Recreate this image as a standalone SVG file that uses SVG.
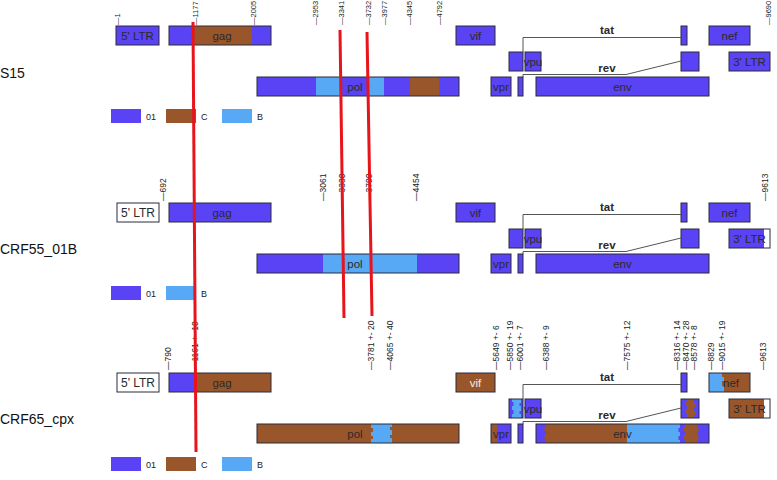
<svg xmlns="http://www.w3.org/2000/svg" width="777" height="480" viewBox="0 0 777 480">
<style>
.b{fill:#5a42f5}.c{fill:#9a562b}.l{fill:#57a9f6}.w{fill:#fff}
.o{fill:none;stroke:#2b2b3a;stroke-width:1}
.g{font-family:"Liberation Sans",Arial,sans-serif;font-size:11.5px;fill:#2a2a2a;text-anchor:middle}
.t{font-family:"Liberation Sans",Arial,sans-serif;font-size:8.5px;fill:#222}
.t1{font-family:"Liberation Sans",Arial,sans-serif;font-size:7.5px;fill:#222}
.lg{font-family:"Liberation Sans",Arial,sans-serif;font-size:9px;fill:#222}
.n{font-family:"Liberation Sans",Arial,sans-serif;font-size:14px;fill:#111}
.ln{fill:none;stroke:#555;stroke-width:1}
.red{stroke:#e8141c;stroke-width:3}
</style>
<rect width="777" height="480" fill="#fff"/>

<!-- ROW 1 -->
<g id="row1">
<text class="n" x="0" y="78">S15</text>
<g id="r1-ticks">
<text class="t1" transform="translate(120,25) rotate(-90)">—1</text>
<text class="t1" transform="translate(198,25) rotate(-90)">—1177</text>
<text class="t1" transform="translate(256,25) rotate(-90)">—2005</text>
<text class="t1" transform="translate(318,25) rotate(-90)">—2953</text>
<text class="t1" transform="translate(344,25) rotate(-90)">—3341</text>
<text class="t1" transform="translate(371,25) rotate(-90)">—3732</text>
<text class="t1" transform="translate(387,25) rotate(-90)">—3977</text>
<text class="t1" transform="translate(412,25) rotate(-90)">—4345</text>
<text class="t1" transform="translate(442,25) rotate(-90)">—4792</text>
<text class="t1" transform="translate(771,25) rotate(-90)">—9690</text>
</g>
<g id="r1-ltr5"><rect class="b" x="116" y="26" width="43" height="19"/><rect class="o" x="116" y="26" width="43" height="19"/><text class="g" x="137.5" y="40">5' LTR</text></g>
<g id="r1-gag"><rect class="b" x="169" y="26" width="102" height="19"/><rect class="c" x="193" y="26" width="59" height="19"/><rect class="o" x="169" y="26" width="102" height="19"/><text class="g" x="222" y="40">gag</text></g>
<g id="r1-vif"><rect class="b" x="456" y="26" width="39" height="19"/><rect class="o" x="456" y="26" width="39" height="19"/><text class="g" x="475.5" y="40">vif</text></g>
<g id="r1-tat1"><rect class="b" x="509" y="52" width="14" height="19"/><rect class="o" x="509" y="52" width="14" height="19"/></g>
<g id="r1-tat2"><rect class="b" x="681" y="26" width="6" height="19"/><rect class="o" x="681" y="26" width="6" height="19"/></g>
<g id="r1-nef"><rect class="b" x="709" y="26" width="41" height="19"/><rect class="o" x="709" y="26" width="41" height="19"/><text class="g" x="729.5" y="40">nef</text></g>
<g id="r1-vpu"><rect class="b" x="525" y="52" width="16" height="19"/><rect class="o" x="525" y="52" width="16" height="19"/><text class="g" x="533" y="66">vpu</text></g>
<g id="r1-rev2"><rect class="b" x="681" y="52" width="18" height="19"/><rect class="o" x="681" y="52" width="18" height="19"/></g>
<g id="r1-ltr3"><rect class="b" x="729" y="52" width="41" height="19"/><rect class="o" x="729" y="52" width="41" height="19"/><text class="g" x="749.5" y="66">3' LTR</text></g>
<g id="r1-pol"><rect class="b" x="257" y="77" width="202" height="19"/><rect class="l" x="316" y="77" width="25" height="19"/><rect class="l" x="369" y="77" width="15" height="19"/><rect class="c" x="410" y="77" width="29" height="19"/><rect class="o" x="257" y="77" width="202" height="19"/><text class="g" x="355" y="91">pol</text></g>
<g id="r1-vpr"><rect class="b" x="491" y="77" width="20" height="19"/><rect class="o" x="491" y="77" width="20" height="19"/><text class="g" x="501" y="91">vpr</text></g>
<g id="r1-rev1"><rect class="b" x="518" y="77" width="5" height="19"/><rect class="o" x="518" y="77" width="5" height="19"/></g>
<g id="r1-env"><rect class="b" x="536" y="77" width="173" height="19"/><rect class="o" x="536" y="77" width="173" height="19"/><text class="g" x="622.5" y="91">env</text></g>
<g id="r1-connectors">
<path class="ln" d="M523,52 V37.5 H681"/>
<path class="ln" d="M523,77 V74.5 H626 L681,61"/>
</g>
<text class="g" x="607" y="34" style="font-weight:bold">tat</text>
<text class="g" x="607" y="72" style="font-weight:bold">rev</text>
<g id="r1-legend">
<rect class="b" x="111" y="109" width="30" height="14"/><text class="lg" x="146" y="120">01</text>
<rect class="c" x="166" y="109" width="30" height="14"/><text class="lg" x="201" y="120">C</text>
<rect class="l" x="222" y="109" width="30" height="14"/><text class="lg" x="257" y="120">B</text>
</g>
</g>

<!-- ROW 2 -->
<g id="row2" transform="translate(0,177)">
<text class="n" x="0" y="77">CRF55_01B</text>
<g id="r2-ticks">
<text class="t" transform="translate(166,24) rotate(-90)">—692</text>
<text class="t" transform="translate(326,24) rotate(-90)">—3061</text>
<text class="t" transform="translate(345,24) rotate(-90)">—3330</text>
<text class="t" transform="translate(372,24) rotate(-90)">—3700</text>
<text class="t" transform="translate(419,24) rotate(-90)">—4454</text>
<text class="t" transform="translate(768,24) rotate(-90)">—9613</text>
</g>
<g id="r2-ltr5"><rect class="w" x="117" y="26" width="42" height="19"/><rect class="o" x="117" y="26" width="42" height="19"/><text class="g" x="138" y="40" style="font-size:12px">5' LTR</text></g>
<g id="r2-gag"><rect class="b" x="169" y="26" width="102" height="19"/><rect class="o" x="169" y="26" width="102" height="19"/><text class="g" x="222" y="40">gag</text></g>
<g id="r2-vif"><rect class="b" x="456" y="26" width="39" height="19"/><rect class="o" x="456" y="26" width="39" height="19"/><text class="g" x="475.5" y="40">vif</text></g>
<g id="r2-tat1"><rect class="b" x="509" y="52" width="14" height="19"/><rect class="o" x="509" y="52" width="14" height="19"/></g>
<g id="r2-tat2"><rect class="b" x="681" y="26" width="6" height="19"/><rect class="o" x="681" y="26" width="6" height="19"/></g>
<g id="r2-nef"><rect class="b" x="709" y="26" width="41" height="19"/><rect class="o" x="709" y="26" width="41" height="19"/><text class="g" x="729.5" y="40">nef</text></g>
<g id="r2-vpu"><rect class="b" x="525" y="52" width="16" height="19"/><rect class="o" x="525" y="52" width="16" height="19"/><text class="g" x="533" y="66">vpu</text></g>
<g id="r2-rev2"><rect class="b" x="681" y="52" width="18" height="19"/><rect class="o" x="681" y="52" width="18" height="19"/></g>
<g id="r2-ltr3"><rect class="w" x="729" y="52" width="41" height="19"/><rect class="b" x="729" y="52" width="35" height="19"/><rect class="o" x="729" y="52" width="41" height="19"/><text class="g" x="749.5" y="66">3' LTR</text></g>
<g id="r2-pol"><rect class="b" x="257" y="77" width="202" height="19"/><rect class="l" x="323" y="77" width="94" height="19"/><rect class="o" x="257" y="77" width="202" height="19"/><text class="g" x="355" y="91">pol</text></g>
<g id="r2-vpr"><rect class="b" x="491" y="77" width="20" height="19"/><rect class="o" x="491" y="77" width="20" height="19"/><text class="g" x="501" y="91">vpr</text></g>
<g id="r2-rev1"><rect class="b" x="518" y="77" width="5" height="19"/><rect class="o" x="518" y="77" width="5" height="19"/></g>
<g id="r2-env"><rect class="b" x="536" y="77" width="173" height="19"/><rect class="o" x="536" y="77" width="173" height="19"/><text class="g" x="622.5" y="91">env</text></g>
<g id="r2-connectors">
<path class="ln" d="M523,52 V37.5 H681"/>
<path class="ln" d="M523,77 V74.5 H626 L681,61"/>
</g>
<text class="g" x="607" y="34" style="font-weight:bold">tat</text>
<text class="g" x="607" y="72" style="font-weight:bold">rev</text>
<g id="r2-legend">
<rect class="b" x="111" y="109" width="30" height="14"/><text class="lg" x="146" y="120">01</text>
<rect class="l" x="166" y="109" width="30" height="14"/><text class="lg" x="201" y="120">B</text>
</g>
</g>

<!-- ROW 3 -->
<g id="row3" transform="translate(0,347)">
<text class="n" x="0" y="77">CRF65_cpx</text>
<g id="r3-ticks">
<text class="t" transform="translate(171,23) rotate(-90)">—790</text>
<text class="t" transform="translate(198,23) rotate(-90)">—1161 +- 10</text>
<text class="t" transform="translate(374,23) rotate(-90)">—3781 +- 20</text>
<text class="t" transform="translate(393,23) rotate(-90)">—4065 +- 40</text>
<text class="t" transform="translate(499,23) rotate(-90)">—5649 +- 6</text>
<text class="t" transform="translate(513,23) rotate(-90)">—5850 +- 19</text>
<text class="t" transform="translate(523,23) rotate(-90)">—6001 +- 7</text>
<text class="t" transform="translate(549,23) rotate(-90)">—6388 +- 9</text>
<text class="t" transform="translate(630,23) rotate(-90)">—7575 +- 12</text>
<text class="t" transform="translate(680,23) rotate(-90)">—8316 +- 14</text>
<text class="t" transform="translate(689,23) rotate(-90)">—8470 +- 28</text>
<text class="t" transform="translate(697,23) rotate(-90)">—8578 +- 8</text>
<text class="t" transform="translate(714,23) rotate(-90)">—8829</text>
<text class="t" transform="translate(725,23) rotate(-90)">—9015 +- 19</text>
<text class="t" transform="translate(766,23) rotate(-90)">—9613</text>
</g>
<g id="r3-ltr5"><rect class="w" x="117" y="26" width="42" height="19"/><rect class="o" x="117" y="26" width="42" height="19"/><text class="g" x="138" y="40" style="font-size:12px">5' LTR</text></g>
<g id="r3-gag"><rect class="c" x="169" y="26" width="102" height="19"/><rect class="b" x="169" y="26" width="27" height="19"/><rect class="o" x="169" y="26" width="102" height="19"/><text class="g" x="222" y="40">gag</text></g>
<g id="r3-vif"><rect class="c" x="456" y="26" width="39" height="19"/><rect class="o" x="456" y="26" width="39" height="19"/><text class="g" x="475.5" y="40" style="fill:#eee">vif</text></g>
<g id="r3-tat1"><rect class="b" x="509" y="52" width="14" height="19"/><path class="l" d="M512,52 H521 V56 H519.5 V59 H521 V64 H519.5 V67 H521 V71 H512 V67 H513.5 V63 H512 V59 H513.5 V55 H512 Z"/><rect class="o" x="509" y="52" width="14" height="19"/></g>
<g id="r3-tat2"><rect class="b" x="681" y="26" width="6" height="19"/><rect class="o" x="681" y="26" width="6" height="19"/></g>
<g id="r3-nef"><rect class="c" x="709" y="26" width="41" height="19"/><path class="l" d="M709,26 H722 V30 H724 V34 H722 V39 H724 V45 H709 Z"/><rect class="o" x="709" y="26" width="41" height="19"/><text class="g" x="731" y="40">nef</text></g>
<g id="r3-vpu"><rect class="b" x="525" y="52" width="16" height="19"/><rect class="o" x="525" y="52" width="16" height="19"/><text class="g" x="533" y="66">vpu</text></g>
<g id="r3-rev2"><rect class="b" x="681" y="52" width="18" height="19"/><path class="c" d="M687,52 H694 V56 H695.5 V60 H694 V64 H695.5 V68 H694 V71 H687 V67 H685.5 V63 H687 V59 H685.5 V55 H687 Z"/><rect class="o" x="681" y="52" width="18" height="19"/></g>
<g id="r3-ltr3"><rect class="w" x="729" y="52" width="41" height="19"/><rect class="c" x="729" y="52" width="35" height="19"/><rect class="o" x="729" y="52" width="41" height="19"/><text class="g" x="749.5" y="66">3' LTR</text></g>
<g id="r3-pol"><rect class="c" x="257" y="77" width="202" height="19"/><path class="l" d="M371,77 H392 V80 H390 V83 H392 V88 H390 V91 H392 V96 H371 V92 H373 V89 H371 V85 H373 V81 H371 Z"/><rect class="o" x="257" y="77" width="202" height="19"/><text class="g" x="355" y="91">pol</text></g>
<g id="r3-vpr"><rect class="b" x="491" y="77" width="20" height="19"/><rect class="c" x="491" y="77" width="6" height="19"/><rect class="o" x="491" y="77" width="20" height="19"/><text class="g" x="501" y="91">vpr</text></g>
<g id="r3-rev1"><rect class="b" x="518" y="77" width="5" height="19"/><rect class="o" x="518" y="77" width="5" height="19"/></g>
<g id="r3-env"><rect class="b" x="536" y="77" width="173" height="19"/><path class="c" d="M546,77 H627 V96 H546 V92 H544.5 V88 H546 V84 H544.5 V80 H546 Z"/><path class="l" d="M627,77 H680 V81 H678.5 V85 H680 V89 H678.5 V93 H680 V96 H627 Z"/><path class="c" d="M685,77 H697 V81 H698.5 V85 H697 V89 H698.5 V93 H697 V96 H685 V92 H683.5 V88 H685 V84 H683.5 V80 H685 Z"/><rect class="o" x="536" y="77" width="173" height="19"/><text class="g" x="622.5" y="91">env</text></g>
<g id="r3-connectors">
<path class="ln" d="M523,52 V37.5 H681"/>
<path class="ln" d="M523,77 V74.5 H626 L681,61"/>
</g>
<text class="g" x="607" y="34" style="font-weight:bold">tat</text>
<text class="g" x="607" y="72" style="font-weight:bold">rev</text>
<g id="r3-legend">
<rect class="b" x="111" y="110" width="30" height="14"/><text class="lg" x="146" y="121">01</text>
<rect class="c" x="166" y="110" width="30" height="14"/><text class="lg" x="201" y="121">C</text>
<rect class="l" x="222" y="110" width="30" height="14"/><text class="lg" x="257" y="121">B</text>
</g>
</g>

<!-- red breakpoint lines -->
<g id="breakpoints">
<line class="red" x1="193" y1="22" x2="196" y2="452"/>
<line class="red" x1="340" y1="30" x2="344" y2="318"/>
<line class="red" x1="367" y1="32" x2="372" y2="316"/>
</g>
</svg>
